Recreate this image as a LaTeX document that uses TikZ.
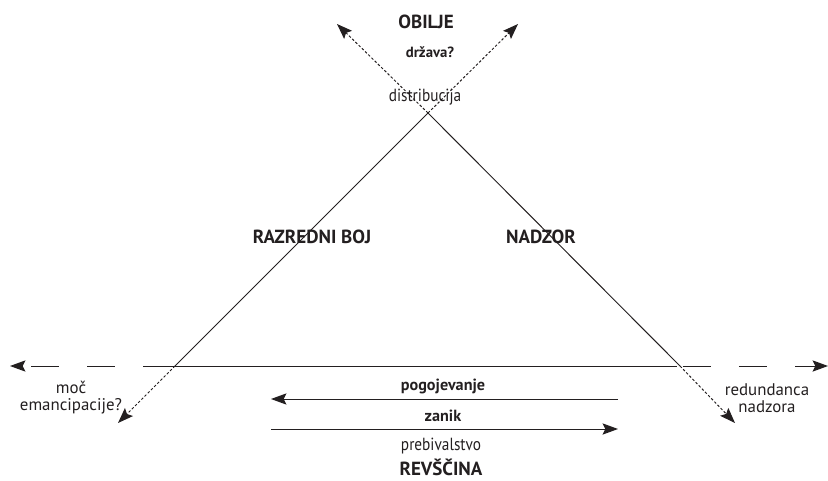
\documentclass[tikz,border=0pt]{standalone}
\usepackage{fontspec}
\setmainfont{PT Sans}
\newfontfamily\narrowfont{PT Sans}[FakeStretch=0.87]
\usetikzlibrary{arrows.meta}
\definecolor{ink}{HTML}{231F20}
\tikzset{
 tip/.style={-{Stealth[length=11pt,width=8pt,inset=2pt]}},
 dotline/.style={dash pattern=on 1.8pt off 1.4pt},
 longdash/.style={dash pattern=on 20pt off 20pt},
 title/.style={font=\fontsize{13.5}{15}\selectfont\bfseries},
 side/.style={font=\fontsize{13.5}{15}\selectfont\bfseries},
 small/.style={font=\fontsize{11.5}{13}\selectfont\bfseries},
 plain/.style={font=\fontsize{12}{13}\selectfont, align=center},
 narrow/.style={font=\narrowfont\fontsize{12.5}{13}\selectfont},
}
\begin{document}
\begin{tikzpicture}[x=0.025cm,y=-0.025cm,line width=0.7pt,color=ink]
 \useasboundingbox (0,0) rectangle (828,480);
 \coordinate (top) at (428,113);
 \coordinate (left) at (175,366);
 \coordinate (right) at (680,366);
 \coordinate (hl) at (143,366);
 \coordinate (hr) at (677,366);
 \coordinate (fl) at (10,366);
 \coordinate (fr) at (828,366);
 \coordinate (tl) at (337,24);
 \coordinate (tr) at (518,24);
 \coordinate (bl) at (118,423);
 \coordinate (br) at (735,423);
 %
 \draw (left) -- (top) -- (right);
 \draw (hl) -- (hr);
 \draw[tip,longdash,dash phase=20pt] (hl) -- (fl);
 \draw[tip,longdash,dash phase=36pt] (hr) -- (fr);
 %
 \draw[tip,dotline] (top) -- (tl);
 \draw[tip,dotline] (top) -- (tr);
 \draw[tip,dotline] (left) -- (bl);
 \draw[tip,dotline] (right) -- (br);
 %
 \coordinate (pa) at (618,399);
 \coordinate (pb) at (271,399);
 \coordinate (za) at (271,429);
 \coordinate (zb) at (618,429);
 \draw[tip] (pa) -- (pb);
 \draw[tip] (za) -- (zb);
 %
 \node[title] (obilje) at (426,22) {OBILJE};
 \node[small,font=\fontsize{10.5}{12}\selectfont\bfseries] (drzava) at (430,52) {država?};
 \node[narrow] (distr) at (425,97) {distribucija};
 \node[side] (boj) at (312,237) {RAZREDNI BOJ};
 \node[side] (nadzor) at (541,237) {NADZOR};
 \node[plain] (moc) at (71,398) {moč\\[-1pt]emancipacije?};
 \node[plain] (redund) at (767,398) {redundanca\\[-1pt]nadzora};
 \node[small] (pogoj) at (443,386) {pogojevanje};
 \node[small] (zanik) at (443,416) {zanik};
 \node[narrow] (preb) at (441,446) {prebivalstvo};
 \node[title] (revs) at (441,467) {REVŠČINA};
\end{tikzpicture}
\end{document}
